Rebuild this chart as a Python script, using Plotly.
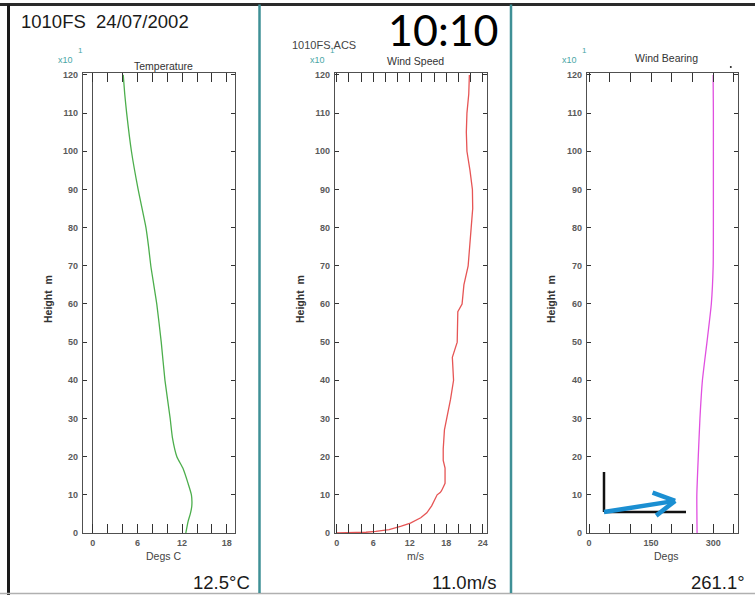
import math
import plotly.graph_objects as go

# ---- sounding profiles (height in m) ----
temp_height = [0, 3, 5, 7, 10, 13, 17, 20, 25, 30, 40, 50, 60, 65, 70, 75, 80, 90, 100, 110, 115, 120]
temp_degc = [12.5, 12.8, 13.1, 13.3, 13.25, 12.8, 12.1, 11.3, 10.7, 10.4, 9.7, 9.2, 8.6, 8.2, 7.8, 7.5, 7.15, 6.1, 5.2, 4.56, 4.3, 4.1]

speed_height = [0, 0.05, 0.2, 0.4, 0.9, 1.8, 2.6, 4.0, 5.3, 7.1, 8.8, 10, 10.6, 11, 12, 12.3, 13, 14, 17, 19, 22, 27,
                30, 35, 40, 46, 50, 58, 60, 65, 70, 75, 80, 85, 90, 95, 100, 105, 110, 115, 120]
speed_ms = [0.0, 3.0, 4.8, 6.4, 8.6, 10.6, 12.1, 13.8, 14.8, 15.6, 16.1, 16.5, 17.0, 17.2, 17.5, 17.6, 17.8, 17.8, 17.8,
            17.5, 17.5, 17.7, 18.1, 18.7, 19.2, 19.0, 19.8, 19.9, 20.6, 20.9, 21.6, 21.9, 22.1, 22.35, 22.3, 21.9,
            21.4, 21.3, 21.4, 21.7, 21.8]

bearing_height = [0, 10, 20, 30, 40, 50, 60, 70, 80, 90, 100, 110, 118, 120]
bearing_deg = [261.1, 260.5, 264, 268, 274, 285, 295.5, 300, 300.5, 300.5, 300.5, 300.5, 300, 300]

# ---- tick definitions ----
height_ticks = list(range(0, 121, 10))
temp_ticks = list(range(0, 19, 2))
temp_ticklabels = ["0", "", "", "6", "", "", "12", "", "", "18"]
speed_ticks = list(range(0, 25, 2))
speed_ticklabels = ["0", "", "", "6", "", "", "12", "", "", "18", "", "", "24"]
bearing_ticks = list(range(0, 351, 50))
bearing_ticklabels = ["0", "", "", "150", "", "", "300", ""]

station_label = "1010FS  24/07/2002"
file_label = "1010FS.ACS"
time_label = "10:10"
surface_temp = "12.5°C"
surface_speed = "11.0m/s"
surface_bearing_value = 261.1

W, H = 755, 595


def px(x):
    return x / W


def py(y):
    return 1 - y / H


GRID = "#505050"
TEAL_TXT = "#4aa6a6"
TICKFONT = dict(family="Liberation Sans", size=9, color="#5a5a5a", weight="bold")

fig = go.Figure()

panels = [
    dict(x=temp_degc, y=temp_height, color="#4cae4c", xr=[-1.3, 19.1], tv=temp_ticks, tt=temp_ticklabels,
         dom=(83, 235), title="Temperature", xtitle="Degs C", zero=True, shape="spline"),
    dict(x=speed_ms, y=speed_height, color="#e65555", xr=[-0.3, 24.7], tv=speed_ticks, tt=speed_ticklabels,
         dom=(335, 487), title="Wind Speed", xtitle="m/s", zero=False, shape="linear"),
    dict(x=bearing_deg, y=bearing_height, color="#e04fe0", xr=[-5, 360], tv=bearing_ticks, tt=bearing_ticklabels,
         dom=(587, 738), title="Wind Bearing", xtitle="Degs", zero=False, shape="spline"),
]

ydom = [py(533), py(73)]
layout_axes = {}
for i, p in enumerate(panels, start=1):
    xa = "xaxis" if i == 1 else f"xaxis{i}"
    ya = "yaxis" if i == 1 else f"yaxis{i}"
    line = dict(color=p["color"], width=1.3, shape=p["shape"])
    if p["shape"] == "spline":
        line["smoothing"] = 0.5
    fig.add_trace(go.Scatter(
        x=p["x"], y=p["y"], mode="lines", line=line,
        xaxis=f"x{i if i > 1 else ''}", yaxis=f"y{i if i > 1 else ''}", showlegend=False, hoverinfo="skip",
    ))
    layout_axes[xa] = dict(
        domain=[px(p["dom"][0]), px(p["dom"][1])], range=p["xr"], anchor=f"y{i if i > 1 else ''}",
        tickmode="array", tickvals=p["tv"], ticktext=p["tt"], ticks="inside", ticklen=9, tickwidth=1.2,
        tickcolor="#333333", showline=True, linecolor=GRID, linewidth=1.2, mirror="ticks",
        showgrid=False, zeroline=p["zero"], zerolinecolor=GRID, zerolinewidth=1.2,
        tickfont=TICKFONT, ticklabelstandoff=1, automargin=False,
    )
    layout_axes[ya] = dict(
        domain=ydom, range=[0, 120.5], anchor=f"x{i if i > 1 else ''}",
        tickmode="array", tickvals=height_ticks, ticks="inside", ticklen=4, tickwidth=1.2,
        tickcolor="#333333", showline=True, linecolor=GRID, linewidth=1.2, mirror="ticks",
        showgrid=False, zeroline=False, tickfont=TICKFONT, ticklabelstandoff=2, automargin=False,
    )

annotations = []


def text(x, y, s, size, color="#333333", xanchor="center", yanchor="middle", family="Liberation Sans",
         weight="normal", angle=0):
    annotations.append(dict(
        x=px(x), y=py(y), xref="paper", yref="paper", text=s, showarrow=False, xanchor=xanchor,
        yanchor=yanchor, textangle=angle, font=dict(family=family, size=size, color=color, weight=weight),
    ))


# header texts
text(19, 22, station_label, 18.5, color="#1a1a1a", xanchor="left")
text(443, 29, time_label, 43, color="#000000", family="Lato")
text(324, 45, file_label, 11, color="#444444")

# panel titles, multipliers, axis titles
titles_y = [66, 61.5, 58]
mult_x = [65, 317, 569]
hl_x = [48, 300, 551]
for p, ty, mx, hx in zip(panels, titles_y, mult_x, hl_x):
    cx = (p["dom"][0] + p["dom"][1]) / 2 + 4
    text(cx, ty, p["title"], 10.5, color="#333333")
    text(mx, 60, "x10", 9, color=TEAL_TXT)
    text(mx + 15, 50, "1", 8, color=TEAL_TXT)
    text(cx, 556, p["xtitle"], 10.5, color="#444444")
    text(hx, 299, "Height  m", 10.5, color="#333333", weight="bold", angle=-90)

# surface values
text(252, 582, surface_temp, 18.5, color="#1a1a1a", xanchor="right")
text(498, 582, surface_speed, 18.5, color="#1a1a1a", xanchor="right")
text(747, 582, f"{surface_bearing_value:.1f}°", 18.5, color="#1a1a1a", xanchor="right")

shapes = []


def seg(x0, y0, x1, y1, color, width):
    shapes.append(dict(type="line", xref="paper", yref="paper", x0=px(x0), y0=py(y0), x1=px(x1), y1=py(y1),
                       line=dict(color=color, width=width)))


# page frame and panel separators
seg(0, 4.5, W, 4.5, "#2a2a2a", 3)
seg(8.5, 4.5, 8.5, H, "#1a1a1a", 3)
seg(0, 593.5, W, 593.5, "#b0b0b0", 1.5)
seg(259.5, 4.5, 259.5, 593, "#3f9096", 2.5)
seg(511, 4.5, 511, 593, "#3f9096", 2.5)

# wind direction indicator: axes corner plus arrow pointing downwind
ox, oy = 604, 512
seg(ox, 472, ox, oy, "#111111", 2.5)
seg(ox, oy, 686, oy, "#111111", 2.5)
toward = math.radians(surface_bearing_value - 180)
L = 72
tx, ty = ox + L * math.sin(toward), oy - L * math.cos(toward)
seg(ox, oy, tx, ty, "#1b8fd2", 4.5)
back = math.atan2(-(ty - oy), -(tx - ox))
for d in (math.radians(29), -math.radians(29)):
    a = back + d
    seg(tx, ty, tx + 24 * math.cos(a), ty + 24 * math.sin(a), "#1b8fd2", 4.5)

# small marker above the bearing panel
shapes.append(dict(type="circle", xref="paper", yref="paper", x0=px(729.8), x1=px(731.8), y0=py(68), y1=py(66),
                   fillcolor="#222222", line=dict(width=0)))

fig.update_layout(
    width=W, height=H, autosize=False, margin=dict(l=0, r=0, t=0, b=0, pad=0),
    paper_bgcolor="white", plot_bgcolor="white",
    annotations=annotations, shapes=shapes, showlegend=False, **layout_axes,
)

fig.write_html("out.html")
